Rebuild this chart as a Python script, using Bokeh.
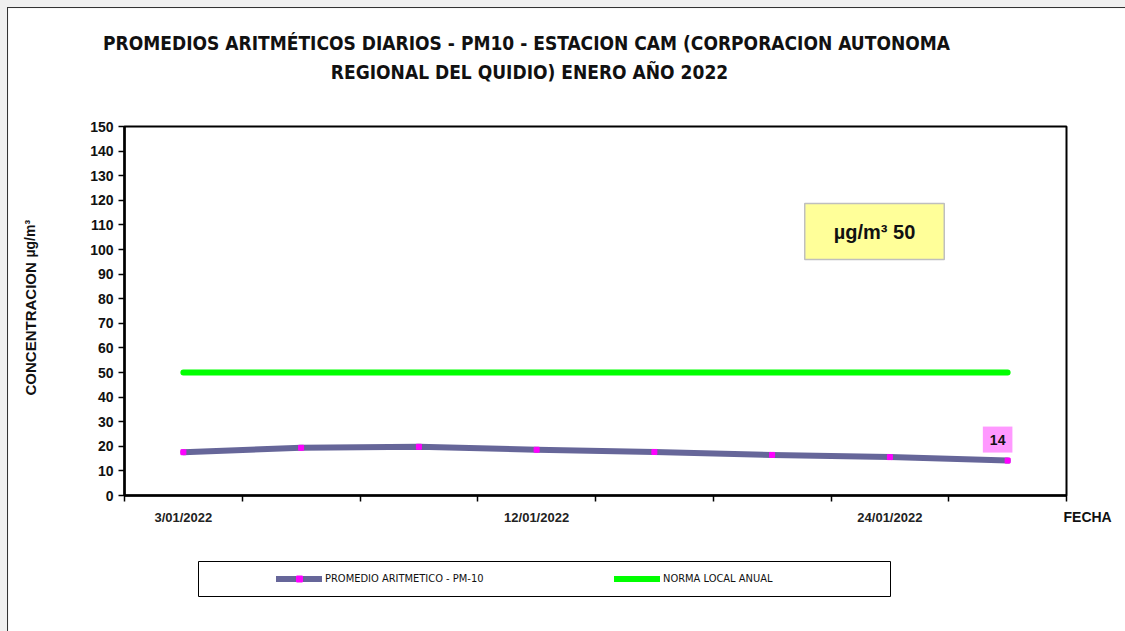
from math import pi
from bokeh.plotting import figure
from bokeh.models import Label, Legend, LegendItem, FixedTicker, Range1d, BoxAnnotation
from bokeh.embed import file_html
from bokeh.resources import INLINE

# ---- data ----
dates = ["3/01/2022", "6/01/2022", "9/01/2022", "12/01/2022",
         "18/01/2022", "21/01/2022", "24/01/2022", "27/01/2022"]
pm10 = [17.6, 19.4, 19.8, 18.6, 17.7, 16.5, 15.6, 14.2]
norma = [50, 50, 50, 50, 50, 50, 50, 50]
shown_idx = [0, 3, 6]
y_ticks = list(range(0, 151, 10))
y_max = 150
last_label = "14"

TITLE1 = "PROMEDIOS ARITMÉTICOS DIARIOS - PM10 -  ESTACION CAM (CORPORACION AUTONOMA"
TITLE2 = "REGIONAL DEL QUIDIO) ENERO AÑO 2022"
NARROW = "DejaVu Sans Condensed"

# ---- layout (canvas pixels) ----
W, H = 1117, 623
PL, PR, PT, PB = 116, 1058, 118, 487   # plot area edges

nx = len(dates)
ppx = (PR - PL) / nx
ppy = (PB - PT) / y_max
x_range = Range1d(-PL / ppx, nx + (W - PR) / ppx)
y_range = Range1d(-(H - PB) / ppy, y_max + PT / ppy)

p = figure(width=W, height=H, output_backend="svg", toolbar_location=None,
           x_range=x_range, y_range=y_range, title=None,
           min_border=0, min_border_left=0, min_border_right=0,
           min_border_top=0, min_border_bottom=0)
p.border_fill_color = "white"
p.background_fill_color = "white"
p.outline_line_color = None
p.xgrid.visible = False
p.ygrid.visible = False
p.styles = {"outline": "1px solid #333333"}

xs = [i + 0.5 for i in range(nx)]

# axes, drawn at the data origin
ax = p.xaxis[0]
ax.fixed_location = 0
ax.bounds = (0, nx)
ax.ticker = FixedTicker(ticks=[xs[i] for i in shown_idx], minor_ticks=list(range(nx + 1)))
ax.major_label_overrides = {xs[i]: dates[i] for i in shown_idx}
ax.major_tick_out = 0
ax.major_tick_in = 0
ax.minor_tick_out = 6
ax.minor_tick_in = 0
ax.minor_tick_line_color = "black"
ax.minor_tick_line_width = 1.5
ax.axis_line_width = 2.5
ax.axis_line_color = "black"
ax.major_label_text_font = "Liberation Sans"
ax.major_label_text_font_style = "bold"
ax.major_label_text_font_size = "13px"
ax.major_label_text_color = "#222222"
ax.major_label_standoff = 8

ay = p.yaxis[0]
ay.fixed_location = 0
ay.bounds = (0, y_max)
ay.ticker = FixedTicker(ticks=y_ticks, minor_ticks=[])
ay.major_tick_out = 6
ay.major_tick_in = 0
ay.major_tick_line_color = "black"
ay.major_tick_line_width = 1.5
ay.axis_line_width = 2.5
ay.axis_line_color = "black"
ay.major_label_text_font = "Liberation Sans"
ay.major_label_text_font_style = "bold"
ay.major_label_text_font_size = "14px"
ay.major_label_text_color = "#111111"
ay.major_label_standoff = 5

# plot-area border
p.add_layout(BoxAnnotation(left=0, right=nx, bottom=0, top=y_max, fill_alpha=0,
                           line_color="black", line_alpha=1, line_width=2, level="underlay"))

# series
r_n = p.line(xs, norma, line_color="#00FF00", line_width=6, line_cap="round")
r_l = p.line(xs, pm10, line_color="#666699", line_width=6, line_join="round", line_cap="round")
r_m = p.scatter(xs, pm10, marker="square", size=5, fill_color="#FF00FF", line_color="#FF00FF")

# data label of last point
p.add_layout(Label(x=xs[-1], y=pm10[-1], text=last_label, x_offset=-10, y_offset=21,
                   text_align="center", text_baseline="middle",
                   text_font="Liberation Sans", text_font_style="bold", text_font_size="14px",
                   text_color="#111111", background_fill_color="#FF99FF",
                   padding=(7, 8)))

# yellow box
p.add_layout(Label(x=866, y=223, x_units="canvas", y_units="canvas", text="µg/m³ 50",
                   text_align="center", text_baseline="middle",
                   text_font="Liberation Sans", text_font_style="bold", text_font_size="20px",
                   text_color="#111111", background_fill_color="#FFFF99",
                   border_line_color="#BFBFBF", border_line_width=1.5, padding=(29, 17)))

# titles
for t, y in [(TITLE1, 34), (TITLE2, 63)]:
    p.add_layout(Label(x=521, y=y, x_units="canvas", y_units="canvas", text=t,
                       text_align="center", text_baseline="middle",
                       text_font=NARROW, text_font_style="bold",
                       text_font_size="19px", text_color="#111111"))

# y axis title
p.add_layout(Label(x=22, y=387, x_units="canvas", y_units="canvas", text="CONCENTRACION",
                   angle=pi / 2, text_align="left", text_baseline="middle",
                   text_font="Liberation Sans", text_font_style="bold",
                   text_font_size="15px", text_color="#111111"))
p.add_layout(Label(x=21, y=249, x_units="canvas", y_units="canvas", text="µg/m³",
                   angle=pi / 2, text_align="left", text_baseline="middle",
                   text_font="Liberation Sans", text_font_style="bold",
                   text_font_size="14px", text_color="#111111"))

# x axis title
p.add_layout(Label(x=1055, y=508, x_units="canvas", y_units="canvas", text="FECHA",
                   text_align="left", text_baseline="middle",
                   text_font="Liberation Sans", text_font_style="bold",
                   text_font_size="14px", text_color="#111111"))

# legend frame
p.add_layout(BoxAnnotation(left=190, right=882, top=553, bottom=588,
                           left_units="canvas", right_units="canvas",
                           top_units="canvas", bottom_units="canvas",
                           fill_alpha=0, line_color="black", line_alpha=1, line_width=1))

# legend entries
common = dict(orientation="horizontal", border_line_alpha=0, background_fill_alpha=0,
              label_text_font=NARROW, label_text_font_size="11px",
              label_text_color="#111111", glyph_width=46, glyph_height=15,
              label_height=20, label_standoff=3, padding=4, margin=0)
p.add_layout(Legend(items=[LegendItem(label="PROMEDIO ARITMETICO - PM-10", renderers=[r_l, r_m])],
                    location=(264, 39), **common))
p.add_layout(Legend(items=[LegendItem(label="NORMA LOCAL ANUAL", renderers=[r_n])],
                    location=(602, 39), **common))

html = file_html(p, INLINE)
html = html.replace("</head>",
                    "<style>html, body { background-color:#f0f0f0 !important; } "
                    "body { padding: 8px !important; }</style></head>", 1)
open("out.html", "w").write(html)
